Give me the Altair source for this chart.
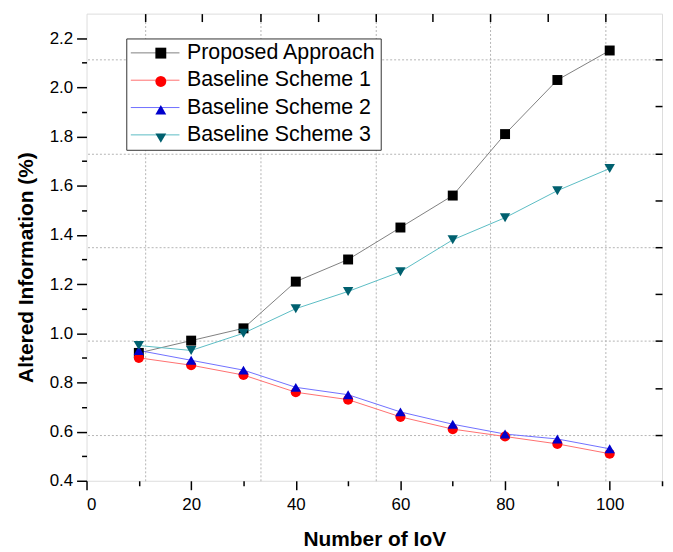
import json
import altair as alt
import pandas as pd

# ---- data ----
series_names = ["Proposed Approach", "Baseline Scheme 1", "Baseline Scheme 2", "Baseline Scheme 3"]
iov = [10, 20, 30, 40, 50, 60, 70, 80, 90, 100]
proposed = [0.92, 0.97, 1.02, 1.21, 1.30, 1.43, 1.56, 1.81, 2.03, 2.15]
scheme1 = [0.90, 0.87, 0.83, 0.76, 0.73, 0.66, 0.61, 0.58, 0.55, 0.51]
scheme2 = [0.93, 0.89, 0.85, 0.78, 0.75, 0.68, 0.63, 0.59, 0.57, 0.53]
scheme3 = [0.95, 0.93, 1.00, 1.10, 1.17, 1.25, 1.38, 1.47, 1.58, 1.67]

x_ticks = [0, 10, 20, 30, 40, 50, 60, 70, 80, 90, 100, 110]
y_ticks = [0.4, 0.5, 0.6, 0.7, 0.8, 0.9, 1.0, 1.1, 1.2, 1.3, 1.4, 1.5, 1.6, 1.7, 1.8, 1.9, 2.0, 2.1, 2.2]
top_ticks = [11.2, 22.0, 33.2, 44.2, 55.2, 66.2, 77.1, 88.2, 99.2]
top_grid = [11.2, 33.2, 55.2, 77.1, 99.2]
right_ticks = [0.586, 0.777, 0.968, 1.159, 1.350, 1.541, 1.732, 1.923, 2.114]
right_grid = [0.586, 0.968, 1.350, 1.732, 2.114]

marker_colors = ["#000000", "#ff0000", "#0000cc", "#00606f"]
line_colors = ["#808080", "#ff7070", "#7070ff", "#5bbcc4"]
shapes = ["square", "circle", "triangle-up", "triangle-down"]
sizes = [100, 110, 170, 170]

line_keys = [f"line{i}" for i in range(len(series_names))]
size_keys = [f"size{i}" for i in range(len(series_names))]

rows = []
for name, lk, sk, vals in zip(series_names, line_keys, size_keys,
                              [proposed, scheme1, scheme2, scheme3]):
    for x, v in zip(iov, vals):
        rows.append({"iov": x, "value": v, "series": name, "series_line": lk, "series_size": sk})
df = pd.DataFrame(rows)

FONT = "Liberation Sans"
xscale = alt.Scale(domain=[0, 110], nice=False, zero=False)
yscale = alt.Scale(domain=[0.4, 2.3], nice=False, zero=False)

base = alt.Chart(df)

# invisible layer carrying the (offset) dotted grid
grid_layer = base.mark_point(opacity=0).encode(
    x=alt.X("iov:Q", scale=xscale, axis=alt.Axis(
        orient="top", values=top_grid, grid=True, ticks=False, labels=False,
        domain=False, title=None, gridColor="#b4b4b4", gridDash=[2, 2], gridWidth=1, zindex=0)),
    y=alt.Y("value:Q", scale=yscale, axis=alt.Axis(
        orient="right", values=right_grid, grid=True, ticks=False, labels=False,
        domain=False, title=None, gridColor="#b4b4b4", gridDash=[2, 2], gridWidth=1, zindex=0)),
)

line_label_expr = f"{json.dumps(series_names)}[indexof({json.dumps(line_keys)}, datum.value)]"

line_layer = base.mark_line(strokeWidth=1).encode(
    x=alt.X("iov:Q", scale=xscale, axis=alt.Axis(
        orient="bottom", values=x_ticks, grid=False, domain=False,
        labelExpr="(datum.value % 20 == 0 && datum.value <= 100) ? datum.label : ''",
        tickSize={"condition": {"test": "datum.value % 20 == 0", "value": 9}, "value": 5},
        tickColor="black", tickWidth=1.5, labelFont=FONT, labelFontSize=17, labelColor="black",
        labelPadding=7, title="Number of IoV", titleFont=FONT, titleFontSize=21,
        titleFontWeight="bold", titleColor="black", titleX=289.5, titleY=65,
        titleBaseline="alphabetic", titleAnchor="middle")),
    y=alt.Y("value:Q", scale=yscale, axis=alt.Axis(
        orient="left", values=y_ticks, grid=False, domain=False,
        labelExpr="(round(datum.value * 10) % 2 == 0) ? format(datum.value, '.1f') : ''",
        tickSize={"condition": {"test": "round(datum.value * 10) % 2 == 0", "value": 10}, "value": 5},
        tickColor="black", tickWidth=1.5, labelFont=FONT, labelFontSize=17, labelColor="black",
        labelPadding=4, title="Altered Information (%)", titleFont=FONT, titleFontSize=21,
        titleFontWeight="bold", titleColor="black", titleX=-60, titleY=255,
        titleBaseline="middle", titleAngle=270)),
    color=alt.Color("series_line:N", scale=alt.Scale(domain=line_keys, range=line_colors),
                    legend=alt.Legend(orient="none", legendX=40, legendY=25, title=None,
                                      symbolType="stroke", symbolSize=2401, symbolStrokeWidth=1,
                                      clipHeight=21, labelFont=FONT, labelFontSize=21.5,
                                      labelColor="black", labelOffset=7, labelLimit=400,
                                      labelExpr=line_label_expr,
                                      rowPadding=5.5, padding=4, fillColor="white",
                                      strokeColor="#333333", zindex=0)),
    detail="series:N",
)

# marker legend drawn over the line legend (labels are blank placeholders)
point_legend = alt.Legend(orient="none", legendX=40, legendY=25, title=None,
                          symbolSize=120, symbolOffset=20, symbolStrokeWidth=0,
                          labelFont=FONT, labelFontSize=21.5, labelLimit=400,
                          labelExpr="' '", labelOpacity=0, labelOffset=7,
                          rowPadding=5.5, padding=4, zindex=1)

point_layer = base.mark_point(filled=True, opacity=1, strokeWidth=0).encode(
    x=alt.X("iov:Q", scale=xscale, axis=alt.Axis(
        orient="top", values=top_ticks, grid=False, labels=False, domain=False, title=None,
        tickSize=8, offset=-8, tickColor="black", tickWidth=1.5)),
    y=alt.Y("value:Q", scale=yscale, axis=alt.Axis(
        orient="right", values=right_ticks, grid=False, labels=False, domain=False, title=None,
        tickSize=7, offset=-7, tickColor="black", tickWidth=1.5)),
    fill=alt.Fill("series:N", scale=alt.Scale(domain=series_names, range=marker_colors),
                  legend=point_legend),
    shape=alt.Shape("series:N", scale=alt.Scale(domain=series_names, range=shapes),
                    legend=point_legend),
    size=alt.Size("series_size:N", scale=alt.Scale(domain=size_keys, range=sizes), legend=None),
)

chart = alt.layer(grid_layer, line_layer, point_layer).resolve_axis(
    x="independent", y="independent"
).properties(
    width=579, height=470,
    autosize=alt.AutoSizeParams(type="none"),
    padding={"left": 79, "top": 4, "right": 3, "bottom": 68},
).configure_view(stroke="black", strokeWidth=2).configure(background="white")

chart.save("out.html", embed_options={"renderer": "svg", "actions": False})
